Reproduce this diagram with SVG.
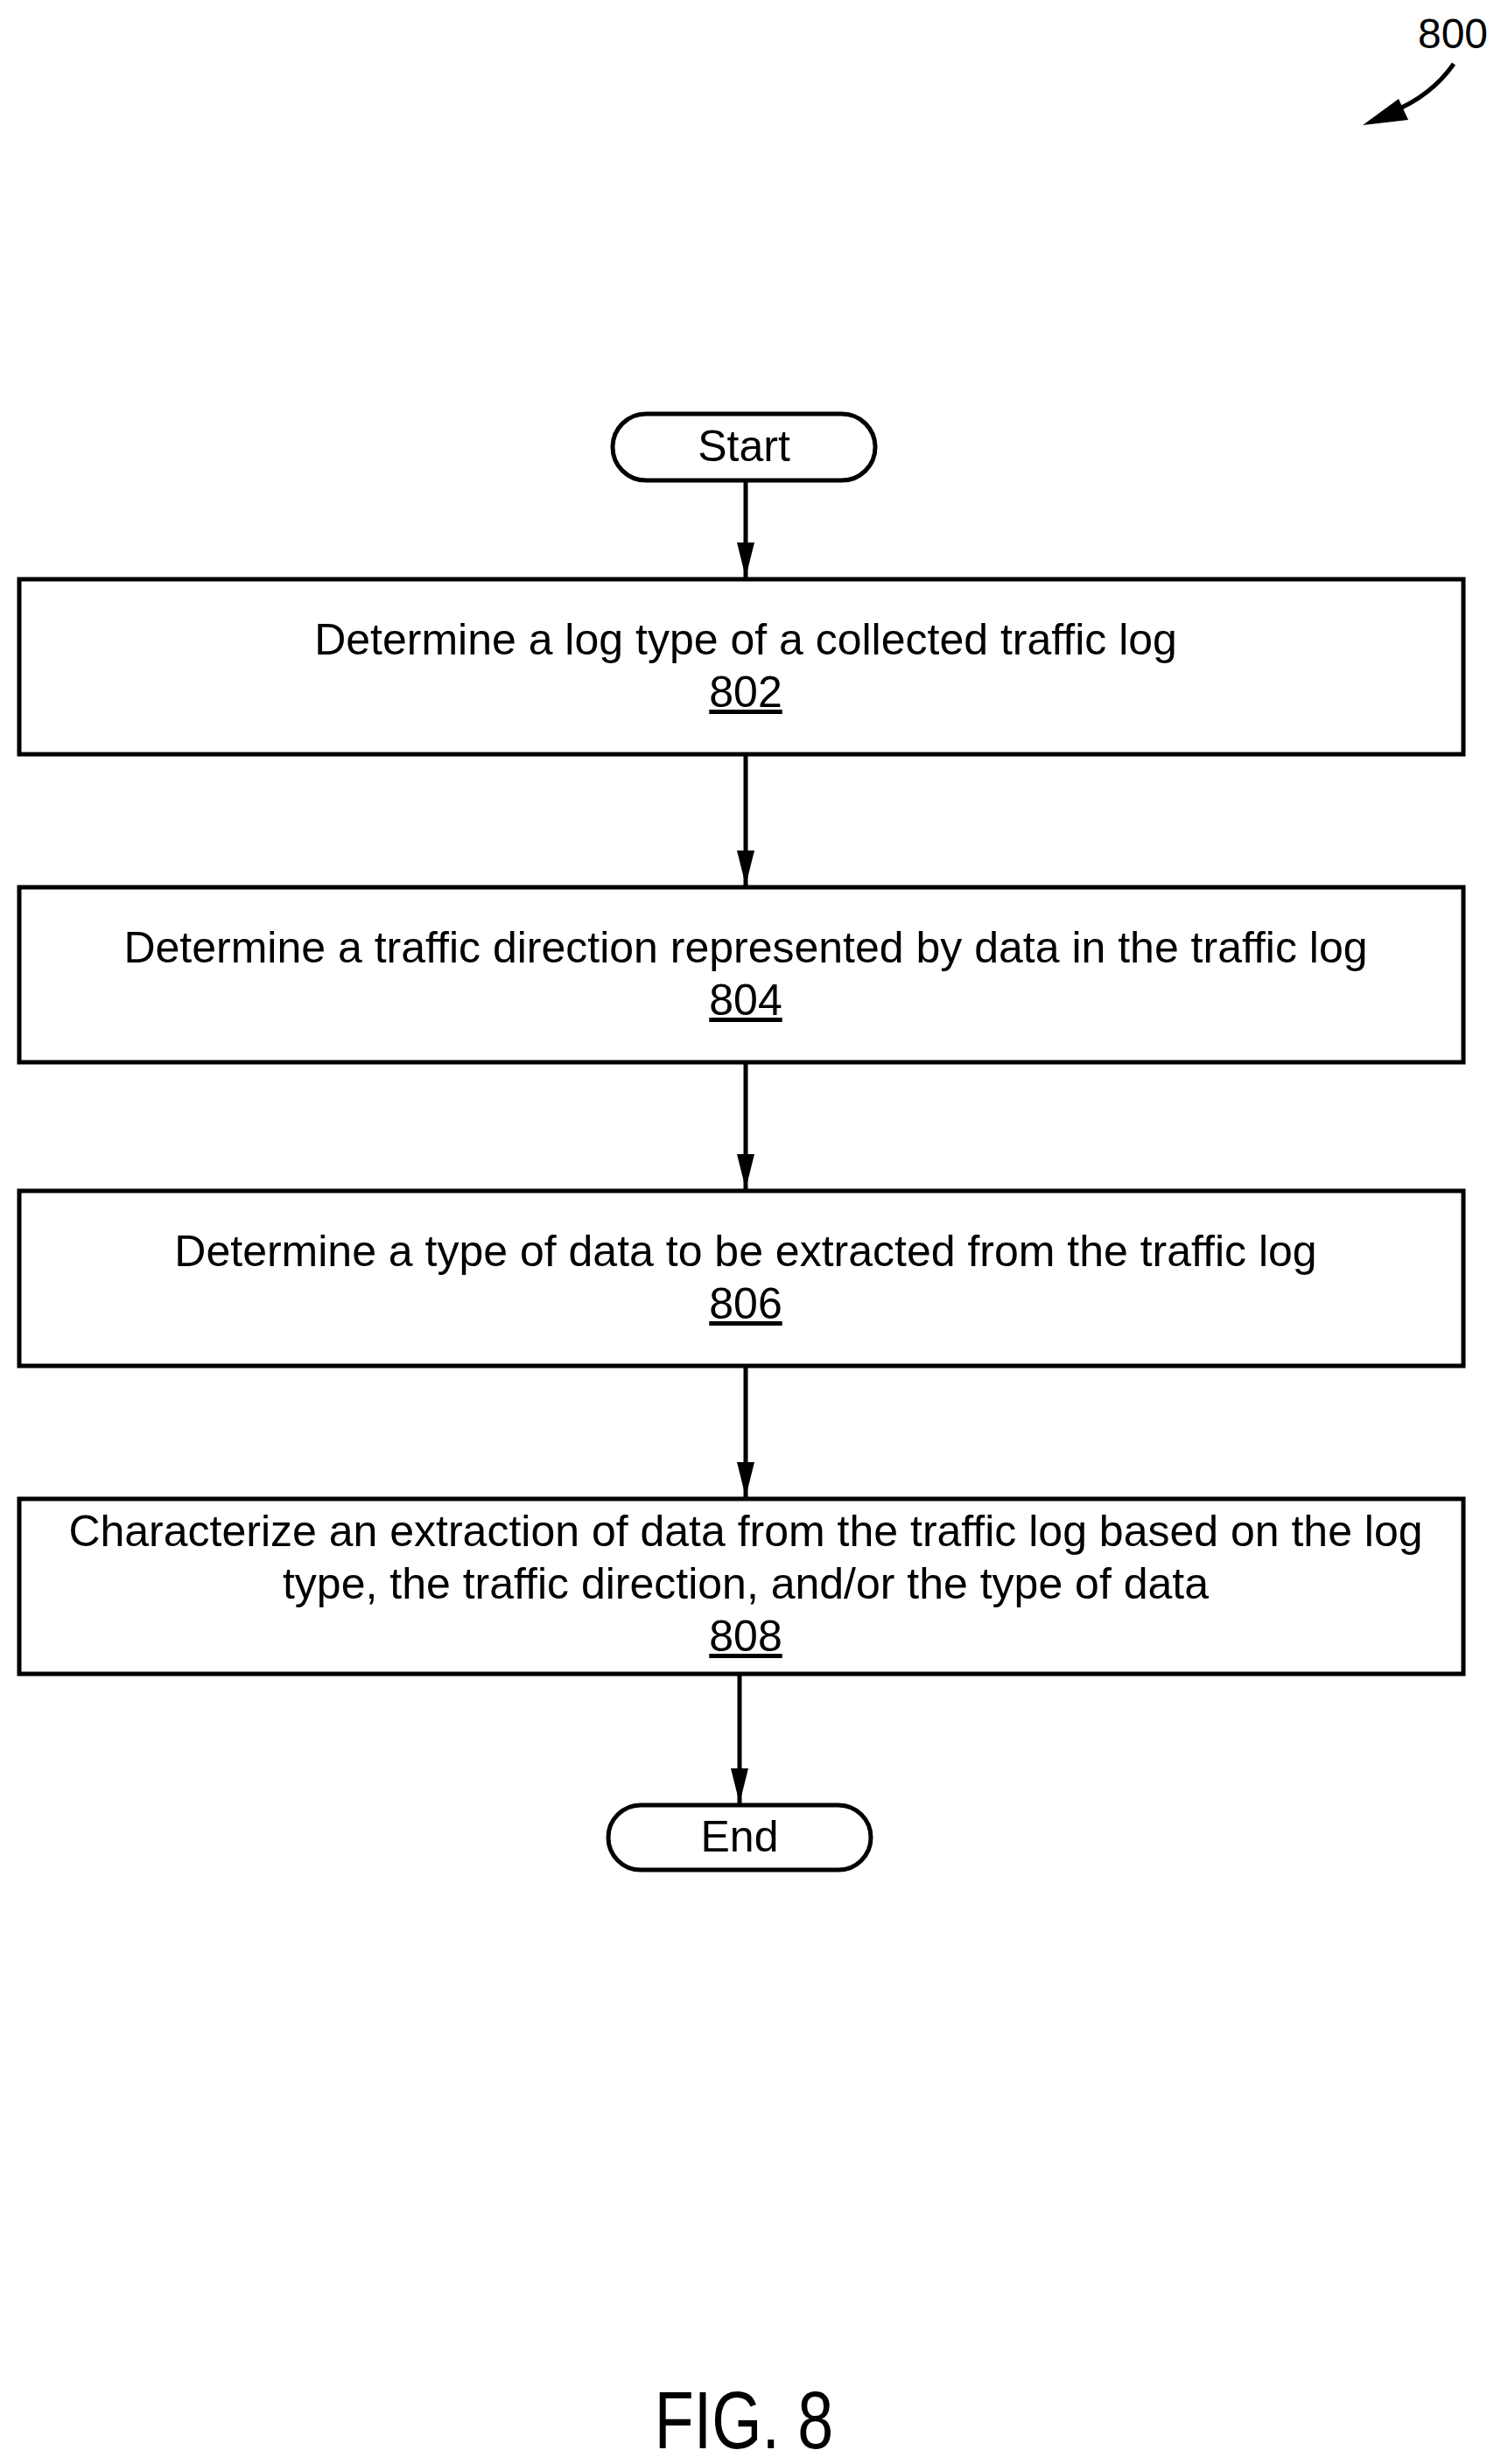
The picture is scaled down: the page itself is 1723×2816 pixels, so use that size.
<svg xmlns="http://www.w3.org/2000/svg" width="1723" height="2816" viewBox="0 0 1723 2816">
<style>
.b{fill:#fff;stroke:#000;stroke-width:5}
.t{font-family:"Liberation Sans",Arial,sans-serif;font-size:50px;text-anchor:middle;fill:#000}
.c{stroke:#000;stroke-width:5;fill:none}
</style>
<defs>
<marker id="h" viewBox="0 0 40 20" refX="40" refY="10" markerWidth="40" markerHeight="20" markerUnits="userSpaceOnUse" orient="auto"><path d="M0,0 L40,10 L0,20 Z"/></marker></defs>
<g id="ref800"><text x="1660" y="55" class="t" style="font-size:48px">800</text>
<path class="c" d="M1661,73 Q1635,110 1590,128"/><path d="M1557,143 L1598,113 L1609,137 Z"/></g>
<g id="connectors">
<line class="c" x1="852" y1="551" x2="852" y2="660" marker-end="url(#h)"/>
<line class="c" x1="852" y1="863" x2="852" y2="1012" marker-end="url(#h)"/>
<line class="c" x1="852" y1="1215" x2="852" y2="1359" marker-end="url(#h)"/>
<line class="c" x1="852" y1="1562" x2="852" y2="1711" marker-end="url(#h)"/>
<line class="c" x1="845" y1="1913" x2="845" y2="2061" marker-end="url(#h)"/>
</g>
<g id="start"><rect class="b" x="700" y="473" width="300" height="76" rx="38"/><text x="850" y="527" class="t">Start</text></g>
<g id="n802"><rect class="b" x="22" y="662" width="1650" height="200"/><text x="852" y="748" class="t">Determine a log type of a collected traffic log</text><text x="852" y="808" class="t" text-decoration="underline">802</text></g>
<g id="n804"><rect class="b" x="22" y="1014" width="1650" height="200"/><text x="852" y="1100" class="t">Determine a traffic direction represented by data in the traffic log</text><text x="852" y="1160" class="t" text-decoration="underline">804</text></g>
<g id="n806"><rect class="b" x="22" y="1361" width="1650" height="200"/><text x="852" y="1447" class="t">Determine a type of data to be extracted from the traffic log</text><text x="852" y="1507" class="t" text-decoration="underline">806</text></g>
<g id="n808"><rect class="b" x="22" y="1713" width="1650" height="200"/><text x="852" y="1767" class="t">Characterize an extraction of data from the traffic log based on the log</text><text x="852" y="1827" class="t">type, the traffic direction, and/or the type of data</text><text x="852" y="1887" class="t" text-decoration="underline">808</text></g>
<g id="end"><rect class="b" x="695" y="2063" width="300" height="74" rx="37"/><text x="845" y="2116" class="t">End</text></g>
<text class="t" style="font-size:92px" transform="translate(850,2798) scale(0.8,1)">FIG. 8</text>
</svg>
